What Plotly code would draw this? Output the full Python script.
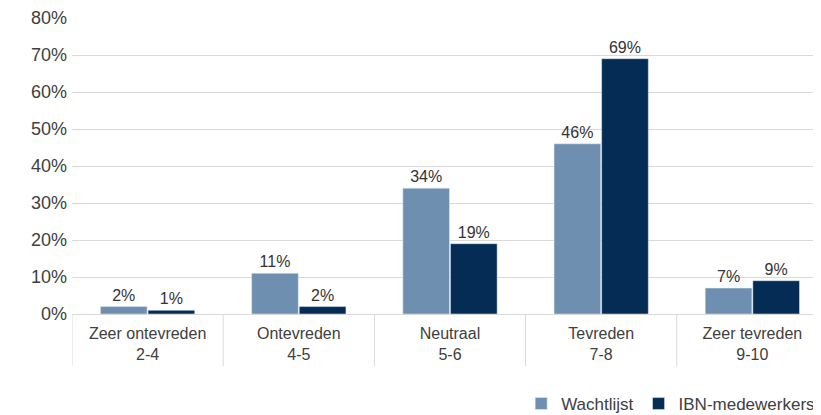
import plotly.graph_objects as go

categories = ["Zeer ontevreden<br>2-4", "Ontevreden<br>4-5", "Neutraal<br>5-6", "Tevreden<br>7-8", "Zeer tevreden<br>9-10"]
wachtlijst = [2, 11, 34, 46, 7]
ibn = [1, 2, 19, 69, 9]
y_ticks = [0, 10, 20, 30, 40, 50, 60, 70, 80]

FONT = "Liberation Sans, Arial, sans-serif"
TXT = "#404040"
GRID = "#d9d9d9"

fig = go.Figure()
fig.add_trace(go.Bar(name="Wachtlijst", x=list(range(len(categories))), y=wachtlijst,
                     marker_color="#6f8fb0",
                     text=[f"{v}%" for v in wachtlijst], textposition="outside",
                     textfont=dict(size=16, color="#333333", family=FONT), cliponaxis=False))
fig.add_trace(go.Bar(name="IBN-medewerkers", x=list(range(len(categories))), y=ibn,
                     marker_color="#042c55",
                     text=[f"{v}%" for v in ibn], textposition="outside",
                     textfont=dict(size=16, color="#333333", family=FONT), cliponaxis=False))

shapes = []
for i in range(len(categories) + 1):
    shapes.append(dict(type="line", xref="x", yref="paper", x0=i - 0.5, x1=i - 0.5,
                       y0=0, y1=-0.1757, line=dict(color=GRID, width=1)))

# page body has an 8px default margin, so the figure is sized to the remaining space
fig.update_layout(
    width=813, height=407, autosize=False,
    margin=dict(l=64, r=0, t=10, b=101, autoexpand=False),
    paper_bgcolor="white", plot_bgcolor="white",
    font=dict(family=FONT, color=TXT, size=16),
    barmode="group", bargap=0.37, bargroupgap=0.02,
    shapes=shapes,
    showlegend=True,
    legend=dict(orientation="h", x=0.5997, y=-0.304, xanchor="left", yanchor="middle",
                font=dict(size=17, color=TXT, family=FONT), bgcolor="rgba(0,0,0,0)",
                traceorder="normal"),
)
fig.update_xaxes(tickmode="array", tickvals=list(range(len(categories))), ticktext=categories,
                 range=[-0.5, 4.454], showgrid=False, showline=True, linecolor=GRID, linewidth=1,
                 ticks="", tickfont=dict(size=16, color=TXT), zeroline=False, ticklabelstandoff=5)
fig.update_yaxes(range=[0, 80], tickmode="array", tickvals=y_ticks,
                 ticktext=[f"{v}%" for v in y_ticks], showgrid=True, gridcolor=GRID,
                 gridwidth=1, zeroline=False, showline=False, tickfont=dict(size=18, color=TXT),
                 ticks="", ticklabelstandoff=4)

fig.write_html("out.html")
